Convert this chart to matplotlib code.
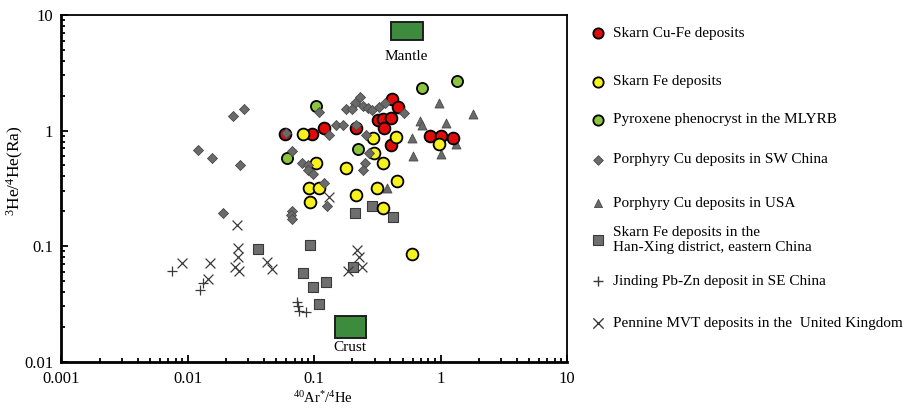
import matplotlib
matplotlib.use("Agg")
import matplotlib.pyplot as plt
from matplotlib.patches import Rectangle

plt.rcParams['font.family'] = ['Liberation Serif', 'DejaVu Serif']
plt.rcParams['mathtext.fontset'] = 'custom'
plt.rcParams['mathtext.rm'] = 'Liberation Serif'
plt.rcParams['mathtext.it'] = 'Liberation Serif:italic'

# ---------------- data ----------------
skarn_cufe_x = [0.0585, 0.0955, 0.119, 0.213, 0.318, 0.348, 0.403, 0.354, 0.410, 0.457, 0.403, 0.818, 1.0, 1.244]
skarn_cufe_y = [0.933, 0.933, 1.05, 1.05, 1.23, 1.26, 1.28, 1.05, 1.87, 1.60, 0.749, 0.896, 0.896, 0.861]

skarn_fe_x = [0.0811, 0.290, 0.441, 0.964, 0.295, 0.1028, 0.348, 0.1775, 0.449, 0.0905, 0.1085, 0.312, 0.213, 0.0921, 0.348, 0.590]
skarn_fe_y = [0.933, 0.861, 0.878, 0.764, 0.639, 0.523, 0.523, 0.473, 0.366, 0.318, 0.318, 0.318, 0.276, 0.240, 0.213, 0.0852]

pyroxene_x = [0.1028, 0.708, 1.338, 0.0606, 0.221]
pyroxene_y = [1.63, 2.33, 2.68, 0.578, 0.692]

porph_sw_x = [0.0120, 0.0155, 0.0227, 0.0277, 0.0258, 0.0189, 0.0595, 0.0664, 0.0664, 0.0652, 0.0664,
              0.1085, 0.229, 0.209, 0.1775, 0.198, 0.2416, 0.265, 0.285, 0.324, 0.361, 0.510,
              0.148, 0.168, 0.213, 0.130, 0.255, 0.270, 0.0796, 0.0888, 0.0888, 0.0973,
              0.2506, 0.2416, 0.119, 0.1256]
porph_sw_y = [0.678, 0.578, 1.335, 1.535, 0.503, 0.193, 0.951, 0.665, 0.201, 0.1855, 0.171,
              1.445, 1.95, 1.73, 1.535, 1.535, 1.63, 1.566, 1.504, 1.60, 1.73, 1.418,
              1.116, 1.116, 1.116, 0.914, 0.914, 0.639, 0.523, 0.503, 0.455, 0.420,
              0.523, 0.455, 0.351, 0.222]

porph_usa_x = [0.964, 1.79, 0.682, 0.708, 1.095, 0.590, 1.314, 0.601, 1.0, 0.374]
porph_usa_y = [1.73, 1.39, 1.21, 1.116, 1.16, 0.861, 0.764, 0.601, 0.626, 0.318]

hanxing_x = [0.0358, 0.285, 0.209, 0.418, 0.0921, 0.2015, 0.0811, 0.1233, 0.0973, 0.1085]
hanxing_y = [0.0942, 0.222, 0.193, 0.178, 0.102, 0.0658, 0.0584, 0.0488, 0.0442, 0.0315]

jinding_x = [0.00747, 0.01245, 0.01314, 0.0727, 0.0741, 0.0754, 0.0857]
jinding_y = [0.0608, 0.0416, 0.0478, 0.0328, 0.0302, 0.0274, 0.0268]

pennine_x = [0.00897, 0.01493, 0.01439, 0.0244, 0.0248, 0.0248, 0.0235, 0.0253, 0.0421, 0.0461,
             0.130, 0.217, 0.225, 0.184, 0.2375]
pennine_y = [0.0713, 0.0713, 0.0518, 0.152, 0.0961, 0.0803, 0.0658, 0.0608, 0.0727, 0.0632,
             0.2655, 0.0923, 0.0803, 0.0608, 0.0658]

mantle_box = [0.403, 0.72, 6.08, 8.7]     # xmin, xmax, ymin, ymax
crust_box = [0.145, 0.255, 0.0159, 0.0249]

legend_labels = ["Skarn Cu-Fe deposits", "Skarn Fe deposits", "Pyroxene phenocryst in the MLYRB",
                 "Porphyry Cu deposits in SW China", "Porphyry Cu deposits in USA",
                 "Skarn Fe deposits in the\nHan-Xing district, eastern China",
                 "Jinding Pb-Zn deposit in SE China", "Pennine MVT deposits in the  United Kingdom"]

# ---------------- figure ----------------
fig = plt.figure(figsize=(9.2, 4.09), dpi=100)
ax = fig.add_axes([0.0668, 0.1161, 0.5495, 0.8472])
ax.set_xscale('log')
ax.set_yscale('log')
ax.set_xlim(0.001, 10)
ax.set_ylim(0.01, 10)

red = '#e00b0b'
yellow = '#f8f21c'
green = '#8cc43f'
gray = '#6a6a6a'

styles = [
    (skarn_cufe_x, skarn_cufe_y, dict(marker='o', s=72, c=red, edgecolors='black', linewidths=1.3, zorder=4)),
    (skarn_fe_x, skarn_fe_y, dict(marker='o', s=72, c=yellow, edgecolors='black', linewidths=1.3, zorder=4)),
    (pyroxene_x, pyroxene_y, dict(marker='o', s=64, c=green, edgecolors='black', linewidths=1.3, zorder=4)),
    (porph_sw_x, porph_sw_y, dict(marker='D', s=26, c=gray, edgecolors='#4a4a4a', linewidths=0.6, zorder=5)),
    (porph_usa_x, porph_usa_y, dict(marker='^', s=42, c=gray, edgecolors='#4a4a4a', linewidths=0.6, zorder=3)),
    (hanxing_x, hanxing_y, dict(marker='s', s=52, c='#6e6e6e', edgecolors='#3a3a3a', linewidths=0.8, zorder=3)),
    (jinding_x, jinding_y, dict(marker='+', s=50, c='#3a3a3a', linewidths=0.9, zorder=3)),
    (pennine_x, pennine_y, dict(marker='x', s=50, c='#3a3a3a', linewidths=0.9, zorder=3)),
]
for xs, ys, kw in styles:
    ax.scatter(xs, ys, **kw)

# Mantle / Crust boxes
for box, label, ty in [(mantle_box, 'Mantle', 4.35), (crust_box, 'Crust', 0.0131)]:
    ax.add_patch(Rectangle((box[0], box[2]), box[1] - box[0], box[3] - box[2],
                           facecolor='#3d8c3d', edgecolor='#1e1e1e', linewidth=1.4, zorder=2))
    xc = (box[0] * box[1]) ** 0.5
    ax.text(xc, ty, label, ha='center', va='center', fontsize=11)

# axes styling
for side in ['left', 'bottom']:
    ax.spines[side].set_linewidth(2.0)
for side in ['top', 'right']:
    ax.spines[side].set_linewidth(1.3)
ax.tick_params(which='both', direction='in', top=False, right=False, labelsize=12, width=1.3)
ax.tick_params(which='major', length=5)
ax.tick_params(which='minor', length=3)
ax.tick_params(axis='x', which='major', pad=7)
ax.tick_params(axis='y', which='major', pad=6)
ax.set_xticks([0.001, 0.01, 0.1, 1, 10])
ax.set_xticklabels(['0.001', '0.01', '0.1', '1', '10'])
ax.set_yticks([0.01, 0.1, 1, 10])
ax.set_yticklabels(['0.01', '0.1', '1', '10'])
ax.set_xlabel(r'$\mathregular{^{40}Ar^{*}/^{4}He}$', fontsize=10.5)
ax.set_ylabel(r'$\mathregular{^{3}He/^{4}He(Ra)}$', fontsize=12.5)
ax.xaxis.set_label_coords(0.517, -0.083)
ax.yaxis.set_label_coords(-0.070, 0.55)

# legend (manual, uneven spacing as in reference)
lax = fig.add_axes([0, 0, 1, 1])
lax.set_xlim(0, 920)
lax.set_ylim(409, 0)
lax.axis('off')
leg_y = [33, 82, 120, 160, 203, 240, 281, 323]
leg_kw = [
    dict(marker='o', s=55, c=red, edgecolors='black', linewidths=1.3),
    dict(marker='o', s=55, c=yellow, edgecolors='black', linewidths=1.3),
    dict(marker='o', s=55, c=green, edgecolors='black', linewidths=1.3),
    dict(marker='D', s=24, c=gray, edgecolors='#4a4a4a', linewidths=0.6),
    dict(marker='^', s=34, c=gray, edgecolors='#4a4a4a', linewidths=0.6),
    dict(marker='s', s=60, c='#6e6e6e', edgecolors='#3a3a3a', linewidths=0.8),
    dict(marker='+', s=55, c='#3a3a3a', linewidths=1.0),
    dict(marker='x', s=55, c='#3a3a3a', linewidths=1.0),
]
for yy, kw, lab in zip(leg_y, leg_kw, legend_labels):
    lax.scatter([598], [yy], **kw)
    lax.text(613, yy, lab, ha='left', va='center', fontsize=11, linespacing=1.25)

fig.savefig('out.png', dpi=100)
